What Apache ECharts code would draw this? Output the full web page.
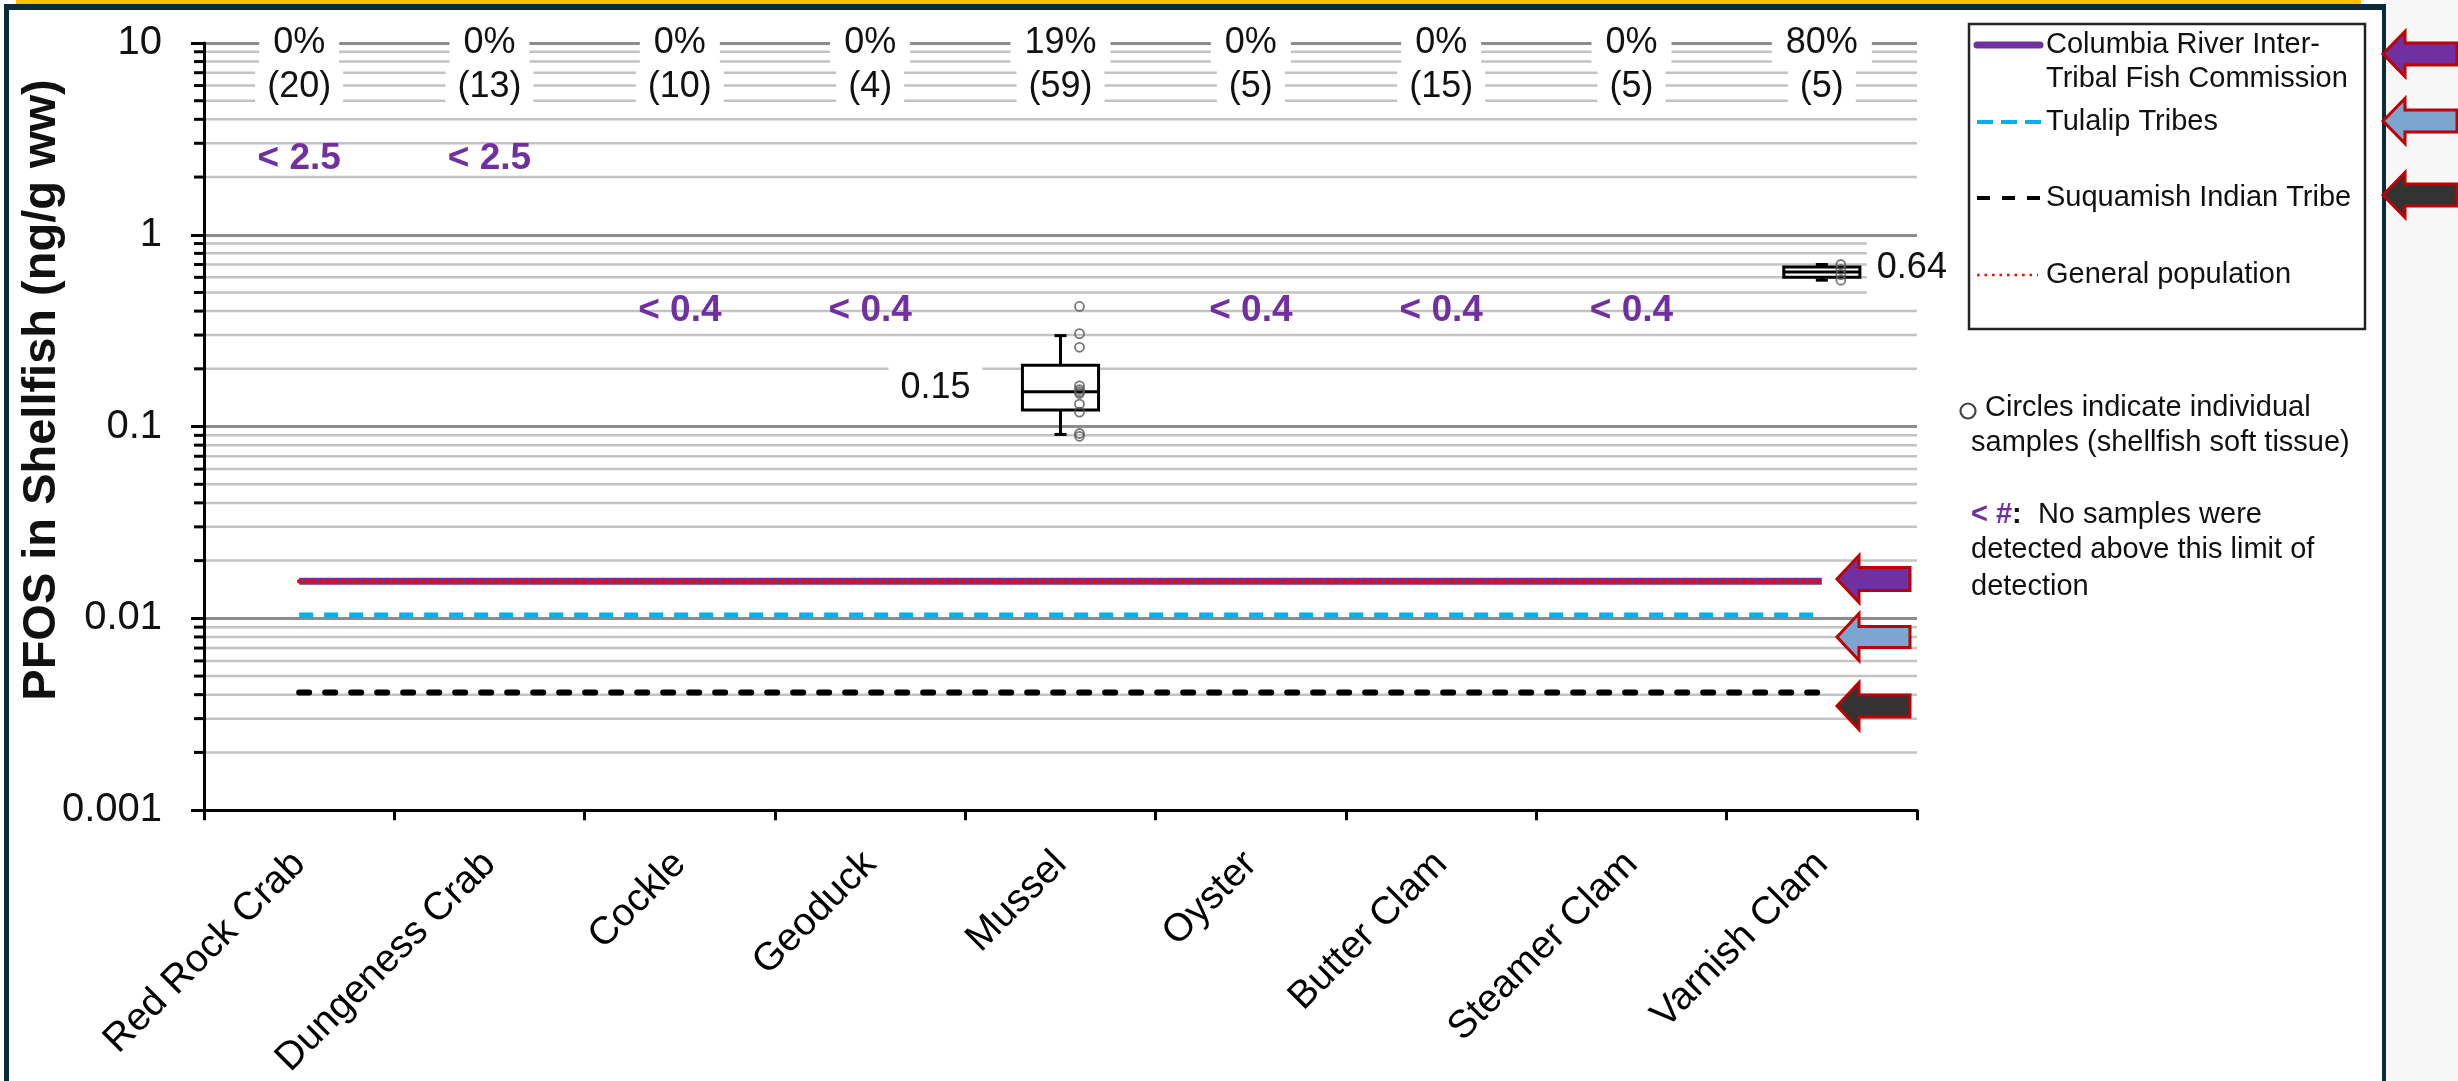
<!DOCTYPE html>
<html>
<head>
<meta charset="utf-8">
<script src="https://cdn.jsdelivr.net/npm/echarts@6/dist/echarts.min.js"></script>
<style>
html,body{margin:0;padding:0;background:#fff;}
#chart{width:2458px;height:1081px;}
</style>
</head>
<body>
<div id="chart"></div>
<script>
// ---------------- data ----------------
const categories = ['Red Rock Crab','Dungeness Crab','Cockle','Geoduck','Mussel','Oyster','Butter Clam','Steamer Clam','Varnish Clam'];
const detectionPct = ['0%','0%','0%','0%','19%','0%','0%','0%','80%'];
const sampleCounts = [20,13,10,4,59,5,15,5,5];
const detectionLimits = [2.5,2.5,0.4,0.4,null,0.4,0.4,0.4,null];
// box stats: [min, q1, median, q3, max]
const musselBox = [0.091,0.122,0.152,0.209,0.298];
const varnishBox = [0.58,0.60,0.64,0.68,0.70];
const musselSamples = [0.423,0.305,0.259,0.163,0.156,0.152,0.149,0.131,0.119,0.092,0.089];
const varnishSamples = [0.70,0.66,0.62,0.58];
const medianLabels = ['0.15','0.64'];
const critfcLevel = 0.0156;
const tulalipLevel = 0.0104;
const suquamishLevel = 0.0041;
const generalPopLevel = 0.0156;
const yTickLabels = ['0.001','0.01','0.1','1','10'];
const decadeStarts = [0.001,0.01,0.1,1];
const minorMultipliers = [2,3,4,5,6,7,8,9];
const pctLabelLevel = 10;
const countLabelLevel = 5.9;

// ---------------- derived ----------------
const minorTicks = [];
decadeStarts.forEach(d => minorMultipliers.forEach(m => minorTicks.push([0, +(d*m).toPrecision(3)])));
const FONT = '"Liberation Sans", Arial, sans-serif';
const lodData = [], lodTexts = [];
detectionLimits.forEach((v,i) => { if (v !== null) { lodData.push([i, v]); lodTexts.push('< ' + v); } });

function textSeries(data, texts, opt) {
  return {
    type: 'custom', coordinateSystem: 'cartesian2d', clip: false, silent: true, z: opt.z || 20,
    data: data,
    renderItem: function (params, api) {
      const p = api.coord([api.value(0), api.value(1)]);
      const i = params.dataIndex;
      const align = Array.isArray(opt.align) ? opt.align[i] : (opt.align || 'center');
      const dx = Array.isArray(opt.dx) ? opt.dx[i] : (opt.dx || 0);
      const pad = Array.isArray(opt.padding && opt.padding[0]) ? opt.padding[i] : opt.padding;
      return {
        type: 'text', x: p[0] + dx, y: p[1] + (opt.dy || 0),
        style: {
          text: texts[i], font: opt.font, fill: opt.fill || '#111',
          align: align, verticalAlign: 'middle',
          backgroundColor: opt.bg || null, padding: pad || 0
        }
      };
    }
  };
}

function lineLevel(name, level, style, z) {
  return {
    name: name, type: 'line', symbol: 'none', silent: true, z: z,
    data: categories.map(() => level),
    lineStyle: style
  };
}

function arrow(tipX, tipY, headBaseX, endX, headHalf, bodyHalf, fill) {
  return {
    type: 'polygon', z: 200, silent: true,
    shape: { points: [[tipX,tipY],[headBaseX,tipY-headHalf],[headBaseX,tipY-bodyHalf],[endX,tipY-bodyHalf],[endX,tipY+bodyHalf],[headBaseX,tipY+bodyHalf],[headBaseX,tipY+headHalf]] },
    style: { fill: fill, stroke: '#C00000', lineWidth: 3, lineJoin: 'miter' }
  };
}

function gtext(x, y, text, extra) {
  return Object.assign({ type: 'text', x: x, y: y, z: 150, silent: true,
    style: Object.assign({ text: text, font: '29px ' + FONT, fill: '#111', align: 'left', verticalAlign: 'middle' }, extra || {}) });
}

const chart = echarts.init(document.getElementById('chart'), null, { renderer: 'canvas' });

const option = {
  animation: false,
  backgroundColor: '#fff',
  grid: { left: 204, right: 541, top: 43, bottom: 255, containLabel: false },
  xAxis: {
    type: 'category', data: categories, boundaryGap: true,
    axisLine: { show: true, lineStyle: { color: '#000', width: 3 } },
    axisTick: { show: true, interval: 0, length: 10, lineStyle: { color: '#000', width: 3 } },
    axisLabel: { interval: 0, rotate: 45, fontSize: 39, fontFamily: FONT, color: '#000', margin: 48,
      verticalAlign: 'middle', padding: [16, 0, 0, 0] },
    splitLine: { show: false }
  },
  yAxis: {
    type: 'log', logBase: 10, min: 0.001, max: 10, splitNumber: 4,
    axisLine: { show: true, lineStyle: { color: '#000', width: 3 } },
    axisTick: { show: true, length: 13, lineStyle: { color: '#000', width: 3 } },
    axisLabel: { margin: 42, fontSize: 40, fontFamily: FONT, color: '#111',
      formatter: v => yTickLabels[Math.round(Math.log10(v)) + 3] },
    splitLine: { show: true, lineStyle: { color: '#8c8c8c', width: 3 } },
    minorTick: { show: false }, minorSplitLine: { show: false }
  },
  series: [
    // minor gridlines + minor ticks at 2..9 of each decade
    {
      type: 'custom', coordinateSystem: 'cartesian2d', clip: false, silent: true, z: 1,
      data: minorTicks,
      renderItem: function (params, api) {
        const cs = params.coordSys;
        const y = api.coord([0, api.value(1)])[1];
        return { type: 'group', children: [
          { type: 'line', shape: { x1: cs.x + 2, y1: y, x2: cs.x + cs.width, y2: y }, style: { stroke: '#c3c3c3', lineWidth: 2.5 } },
          { type: 'line', shape: { x1: cs.x - 10, y1: y, x2: cs.x, y2: y }, style: { stroke: '#000', lineWidth: 3 } }
        ]};
      }
    },
    lineLevel('Columbia River Inter-Tribal Fish Commission', critfcLevel, { color: '#7030A0', width: 7 }, 5),
    lineLevel('General population', generalPopLevel, { color: '#FF0000', width: 4.5, type: [0.5, 6.8], cap: 'round' }, 6),
    lineLevel('Tulalip Tribes', tulalipLevel, { color: '#00B0F0', width: 5, type: [14, 11] }, 5),
    lineLevel('Suquamish Indian Tribe', suquamishLevel, { color: '#000', width: 6, type: [10, 16], cap: 'round' }, 5),
    // box plots
    {
      type: 'custom', coordinateSystem: 'cartesian2d', clip: false, silent: true, z: 8,
      data: [[4].concat(musselBox), [8].concat(varnishBox)],
      renderItem: function (params, api) {
        const cat = api.value(0);
        const pMin = api.coord([cat, api.value(1)]);
        const pQ1 = api.coord([cat, api.value(2)]);
        const pMed = api.coord([cat, api.value(3)]);
        const pQ3 = api.coord([cat, api.value(4)]);
        const pMax = api.coord([cat, api.value(5)]);
        const bw = params.coordSys.width / categories.length * 0.40;
        const cx = pMed[0], cap = 6;
        const ls = { stroke: '#000', lineWidth: 3 };
        return { type: 'group', children: [
          { type: 'line', shape: { x1: cx, y1: pQ3[1], x2: cx, y2: pMax[1] }, style: ls },
          { type: 'line', shape: { x1: cx, y1: pQ1[1], x2: cx, y2: pMin[1] }, style: ls },
          { type: 'line', shape: { x1: cx - cap, y1: pMax[1], x2: cx + cap, y2: pMax[1] }, style: ls },
          { type: 'line', shape: { x1: cx - cap, y1: pMin[1], x2: cx + cap, y2: pMin[1] }, style: ls },
          { type: 'rect', shape: { x: cx - bw / 2, y: pQ3[1], width: bw, height: pQ1[1] - pQ3[1] }, style: { fill: '#fff', stroke: '#000', lineWidth: 3 } },
          { type: 'line', shape: { x1: cx - bw / 2, y1: pMed[1], x2: cx + bw / 2, y2: pMed[1] }, style: ls }
        ]};
      }
    },
    // individual samples
    {
      type: 'scatter', silent: true, z: 9, symbol: 'circle', symbolSize: 9, symbolOffset: [19, 0],
      data: musselSamples.map(v => ['Mussel', v]).concat(varnishSamples.map(v => ['Varnish Clam', v])),
      itemStyle: { color: 'rgba(0,0,0,0)', borderColor: '#555', borderWidth: 1.8 }
    },
    // annotation texts
    textSeries(detectionPct.map((t, i) => [i, pctLabelLevel]), detectionPct,
      { font: '36px ' + FONT, bg: '#fff', padding: [3, 14], z: 20 }),
    textSeries(sampleCounts.map((n, i) => [i, countLabelLevel]), sampleCounts.map(n => '(' + n + ')'),
      { font: '36px ' + FONT, bg: '#fff', padding: [1, 12], z: 21 }),
    textSeries(lodData, lodTexts, { font: 'bold 37px ' + FONT, fill: '#7030A0', z: 20 }),
    textSeries([[4, musselBox[2]], [8, varnishBox[2]]], medianLabels,
      { font: '36px ' + FONT, fill: '#111', bg: '#fff', align: ['right', 'left'], dx: [-78, 45], dy: -4,
        padding: [[6, 12], [9, 10]], z: 20 })
  ],
  graphic: [
    // page frame
    { type: 'rect', z: 0, silent: true, shape: { x: 2386, y: 0, width: 72, height: 1081 }, style: { fill: '#F7F7F7' } },
    { type: 'rect', z: 100, silent: true, shape: { x: 16, y: 0, width: 2345, height: 4 }, style: { fill: '#FFC000' } },
    { type: 'rect', z: 100, silent: true, shape: { x: 4, y: 4, width: 2382, height: 6 }, style: { fill: '#0D2A3C' } },
    { type: 'rect', z: 100, silent: true, shape: { x: 4, y: 4, width: 5, height: 1077 }, style: { fill: '#0D2A3C' } },
    { type: 'rect', z: 100, silent: true, shape: { x: 2382, y: 4, width: 4, height: 1077 }, style: { fill: '#0D2A3C' } },
    // y axis title
    { type: 'text', x: 42, y: 390, rotation: Math.PI / 2, z: 150, silent: true,
      style: { text: 'PFOS in Shellfish (ng/g ww)', font: 'bold 47px ' + FONT, fill: '#111', align: 'center', verticalAlign: 'middle' } },
    // legend box
    { type: 'rect', z: 120, silent: true, shape: { x: 1969, y: 24, width: 396, height: 305 }, style: { fill: '#fff', stroke: '#222', lineWidth: 2.5 } },
    { type: 'line', z: 130, silent: true, shape: { x1: 1977, y1: 45, x2: 2040, y2: 45 }, style: { stroke: '#7030A0', lineWidth: 7, lineCap: 'round' } },
    gtext(2046, 45, 'Columbia River Inter-'),
    gtext(2046, 79, 'Tribal Fish Commission'),
    { type: 'line', z: 130, silent: true, shape: { x1: 1977, y1: 122, x2: 2041, y2: 122 }, style: { stroke: '#00B0F0', lineWidth: 4, lineDash: [16, 8] } },
    gtext(2046, 122, 'Tulalip Tribes'),
    { type: 'line', z: 130, silent: true, shape: { x1: 1977, y1: 198, x2: 2041, y2: 198 }, style: { stroke: '#000', lineWidth: 4, lineDash: [13, 12] } },
    gtext(2046, 198, 'Suquamish Indian Tribe'),
    { type: 'line', z: 130, silent: true, shape: { x1: 1977, y1: 275, x2: 2038, y2: 275 }, style: { stroke: '#FF0000', lineWidth: 2.5, lineDash: [2.5, 5] } },
    gtext(2046, 275, 'General population'),
    // notes
    { type: 'circle', z: 130, silent: true, shape: { cx: 1968, cy: 411, r: 7.5 }, style: { fill: '#fff', stroke: '#444', lineWidth: 2.2 } },
    gtext(1985, 408, 'Circles indicate individual'),
    gtext(1971, 443, 'samples (shellfish soft tissue)'),
    gtext(1971, 515, '{p|< #}{b|:}  No samples were', { rich: {
      p: { fill: '#7030A0', font: 'bold 29px ' + FONT },
      b: { fill: '#111', font: 'bold 29px ' + FONT } } }),
    gtext(1971, 550, 'detected above this limit of'),
    gtext(1971, 587, 'detection'),
    // arrows in plot
    arrow(1837, 579, 1859, 1910, 23.5, 11.5, '#7030A0'),
    arrow(1837, 637, 1859, 1910, 23.5, 10.5, '#7BA6CE'),
    arrow(1837, 706, 1859, 1910, 23.5, 11, '#333333'),
    // arrows at right edge
    arrow(2383, 54, 2405, 2457, 22.5, 11, '#7030A0'),
    arrow(2383, 121, 2405, 2457, 22.5, 11, '#7BA6CE'),
    arrow(2383, 195, 2405, 2457, 22.5, 11, '#333333')
  ]
};
chart.setOption(option);
</script>
</body>
</html>
